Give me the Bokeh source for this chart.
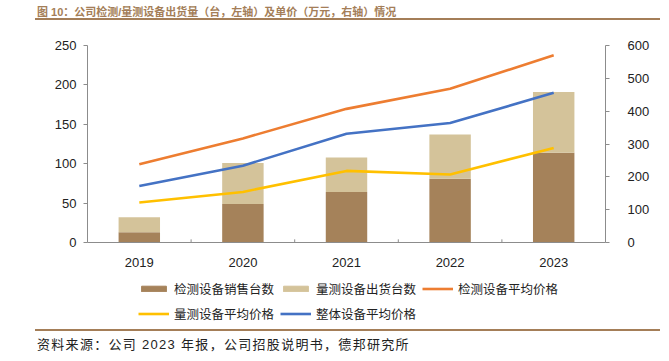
from bokeh.plotting import figure
from bokeh.models import (LinearAxis, Range1d, FactorRange, Legend, LegendItem, Div,
                          SingleIntervalTicker, ColumnDataSource)
from bokeh.layouts import column
from bokeh.embed import file_html
from bokeh.resources import INLINE

years = ["2019", "2020", "2021", "2022", "2023"]
inspect_sales = [13, 49, 64, 81, 114]        # 检测设备销售台数 (台)
metrology_ship = [19, 52, 44, 56, 77]        # 量测设备出货台数 (台, stacked)
inspect_price = [238, 317, 407, 468, 570]    # 检测设备平均价格 (万元)
metrology_price = [122, 154, 218, 207, 288]  # 量测设备平均价格 (万元)
overall_price = [172, 234, 331, 364, 456]    # 整体设备平均价格 (万元)

legend_labels = ["检测设备销售台数", "量测设备出货台数", "检测设备平均价格",
                 "量测设备平均价格", "整体设备平均价格"]
title_text = "图 10：公司检测/量测设备出货量（台，左轴）及单价（万元，右轴）情况"
source_text = "资料来源：公司 2023 年报，公司招股说明书，德邦研究所"

C_DARK = "#a5825a"
C_LIGHT = "#d4c39a"
C_ORANGE = "#ed7d31"
C_YELLOW = "#ffc000"
C_BLUE = "#4472c4"
C_TITLE = "#a47e58"
AX = "#8c8c8c"
NUM_FONT = "Liberation Sans"
CJK_FONT = "Noto Sans CJK SC"

src = ColumnDataSource(dict(year=years, a=inspect_sales, b=metrology_ship,
                            ip=inspect_price, mp=metrology_price, op=overall_price))

p = figure(x_range=FactorRange(*years), y_range=Range1d(0, 250),
           width=669, height=243, output_backend="svg", toolbar_location=None,
           min_border_left=87, min_border_right=64, min_border_top=18, min_border_bottom=28,
           margin=0)
p.extra_y_ranges = {"price": Range1d(0, 600)}
p.outline_line_color = None
p.xgrid.visible = False
p.ygrid.visible = False
p.background_fill_color = "white"
p.border_fill_color = "white"

bars = p.vbar_stack(["a", "b"], x="year", width=0.4, color=[C_DARK, C_LIGHT],
                    line_color=None, source=src)
l1 = p.line(x="year", y="ip", source=src, y_range_name="price", line_width=2.6, color=C_ORANGE)
l2 = p.line(x="year", y="mp", source=src, y_range_name="price", line_width=2.6, color=C_YELLOW)
l3 = p.line(x="year", y="op", source=src, y_range_name="price", line_width=2.6, color=C_BLUE)

# small tick marks between categories on the x axis (category boundaries)
bnd = [(y, 0.5) for y in years[:-1]]
p.segment(x0=bnd, x1=bnd, y0=[0] * len(bnd), y1=[4] * len(bnd), line_color=AX, line_width=1)

# left axis
ly = p.yaxis[0]
ly.ticker = SingleIntervalTicker(interval=50)
ly.minor_tick_line_color = None
ly.major_tick_in = 0
ly.major_tick_out = 4
ly.axis_line_color = AX
ly.major_tick_line_color = AX
ly.major_label_text_font = NUM_FONT
ly.major_label_text_font_size = "13px"
ly.major_label_text_color = "#222222"
ly.major_label_standoff = 7

# right axis
ry = LinearAxis(y_range_name="price", ticker=SingleIntervalTicker(interval=100))
ry.minor_tick_line_color = None
ry.major_tick_in = 0
ry.major_tick_out = 4
ry.axis_line_color = AX
ry.major_tick_line_color = AX
ry.major_label_text_font = NUM_FONT
ry.major_label_text_font_size = "13px"
ry.major_label_text_color = "#222222"
ry.major_label_standoff = 18
p.add_layout(ry, "right")

# x axis
xa = p.xaxis[0]
xa.axis_line_color = AX
xa.major_tick_line_color = None
xa.minor_tick_line_color = None
xa.major_label_text_font = NUM_FONT
xa.major_label_text_font_size = "13px"
xa.major_label_text_color = "#222222"
xa.major_label_standoff = 9

# legend strip (separate figure so the legend is not clipped by the chart frame)
lg = figure(width=669, height=59, x_range=Range1d(0, 1), y_range=Range1d(0, 1),
            output_backend="svg", toolbar_location=None, x_axis_type=None, y_axis_type=None,
            min_border=0, margin=0)
lg.outline_line_color = None
lg.xgrid.visible = False
lg.ygrid.visible = False
lg.border_fill_color = "white"
# zero-size proxy glyphs that only provide the legend swatches
g1 = lg.vbar(x=[0.5], top=[0], bottom=[0], width=0.0, color=C_DARK)
g2 = lg.vbar(x=[0.5], top=[0], bottom=[0], width=0.0, color=C_LIGHT)
g3 = lg.line(x=[0.5], y=[0.5], line_width=2.6, color=C_ORANGE)
g4 = lg.line(x=[0.5], y=[0.5], line_width=2.6, color=C_YELLOW)
g5 = lg.line(x=[0.5], y=[0.5], line_width=2.6, color=C_BLUE)

legend = Legend(items=[LegendItem(label=t, renderers=[r]) for t, r in
                       zip(legend_labels, [g1, g2, g3, g4, g5])],
                orientation="horizontal", ncols=3, location=(51, 6))
legend.padding = 0
legend.margin = 0
legend.spacing = 6
legend.border_line_color = None
legend.background_fill_alpha = 0
legend.glyph_width = 31
legend.glyph_height = 7
legend.label_height = 19
legend.label_standoff = 5
legend.label_text_font = CJK_FONT
legend.label_text_font_size = "12.5px"
legend.label_text_color = "#222222"
lg.add_layout(legend, "center")

title = Div(text=(
    '<div style="margin-left:35px;width:625px;height:20px;padding-top:5px;'
    'font-family:\'Liberation Sans\',\'Noto Sans CJK SC\',sans-serif;font-weight:bold;'
    'font-size:11px;color:%s;line-height:14px;'
    'border-bottom:2px solid %s;white-space:nowrap;"><span style="padding-left:2px">%s</span></div>')
    % (C_TITLE, C_TITLE, title_text),
    width=669, height=27, margin=0)

footer = Div(text=(
    '<div style="margin-left:35px;width:625px;padding-top:6px;'
    'font-family:\'Liberation Sans\',\'Noto Sans CJK SC\',sans-serif;'
    'font-size:13px;letter-spacing:1.3px;color:#222222;line-height:16px;'
    'border-top:2px solid %s;white-space:nowrap;"><span style="padding-left:2px">%s</span></div>')
    % (C_TITLE, source_text),
    width=669, height=32, margin=0)

layout = column(title, p, lg, footer, spacing=0, margin=0)

with open("out.html", "w") as f:
    f.write(file_html(layout, INLINE))
